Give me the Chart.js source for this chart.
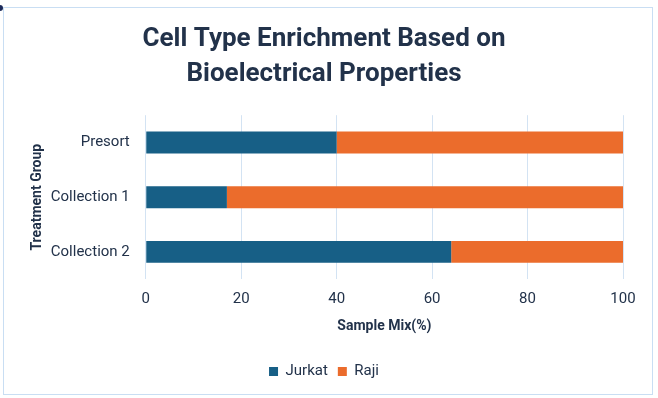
<!DOCTYPE html>
<html>
<head>
<meta charset="utf-8">
<script src="https://cdn.jsdelivr.net/npm/chart.js@4"></script>
<style>
  html, body { margin:0; padding:0; background:#fff; }
  #wrap { position:relative; width:658px; height:398px; }
  #frame { position:absolute; left:3px; top:7px; width:650px; height:388px; border:1px solid #c9def3; box-sizing:border-box; pointer-events:none; }
  #dot { position:absolute; left:-3px; top:5px; width:6px; height:6px; border-radius:3px; background:#1c2a5a; }
</style>
</head>
<body>
<div id="wrap">
  <canvas id="c" width="658" height="398"></canvas>
  <div id="frame"></div>
  <div id="dot"></div>
</div>
<script>
// 数据
const groups = ['Presort', 'Collection 1', 'Collection 2'];
const jurkat = [40, 17, 64];
const raji   = [60, 83, 36];
const xTicks = [0, 20, 40, 60, 80, 100];

const ink = '#22324a';
const font = 'Roboto, "Open Sans", sans-serif';

new Chart(document.getElementById('c').getContext('2d'), {
  type: 'bar',
  data: {
    labels: groups,
    datasets: [
      { label:'Jurkat', data:jurkat, backgroundColor:'#175f86', barPercentage:0.4, categoryPercentage:1 },
      { label:'Raji', data:raji, backgroundColor:'#eb6c2c', barPercentage:0.4, categoryPercentage:1 }
    ]
  },
  options: {
    indexAxis: 'y',
    responsive: false,
    animation: false,
    layout: { padding: { top: 8, right: 35, bottom: 9, left: 25 } },
    plugins: {
      title: {
        display: true,
        text: ['Cell Type Enrichment Based on', 'Bioelectrical Properties'],
        color: ink,
        font: { family: font, size: 26, weight: 'bold', lineHeight: 1.35 },
        padding: { top: 14, bottom: 23 }
      },
      legend: {
        position: 'bottom',
        labels: { color: ink, font: { family: font, size: 15 }, boxWidth: 9, boxHeight: 9, padding: 10 }
      },
      tooltip: { enabled: false }
    },
    scales: {
      x: {
        stacked: true,
        min: 0, max: 100,
        afterBuildTicks: (ax) => { ax.ticks = xTicks.map(v => ({ value: v })); },
        grid: { color: '#d3e3f3', drawTicks: false },
        border: { display: false },
        ticks: { color: ink, font: { family: font, size: 15 }, padding: 11 },
        title: { display: true, text: 'Sample Mix(%)', color: ink, font: { family: font, size: 14, weight: 'bold' }, padding: { top: -1, bottom: 19 } }
      },
      y: {
        stacked: true,
        grid: { display: false, drawTicks: false },
        border: { display: false },
        ticks: { color: ink, font: { family: font, size: 15 }, padding: 16 },
        title: { display: true, text: 'Treatment Group', color: ink, font: { family: font, size: 14, weight: 'bold' }, padding: { top: 4, bottom: -11 } }
      }
    }
  }
});
</script>
</body>
</html>
